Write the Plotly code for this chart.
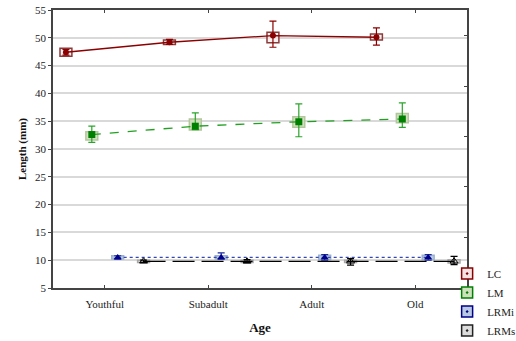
import plotly.graph_objects as go

categories = ["Youthful", "Subadult", "Adult", "Old"]
series_names = ["LC", "LM", "LRMi", "LRMs"]

lc_mean = [47.4, 49.2, 50.4, 50.1]
lc_err_hi = [47.9, 49.7, 53.0, 51.8]
lc_err_lo = [46.9, 48.8, 48.3, 48.7]
lc_box_hi = [48.1, 49.6, 51.0, 50.7]
lc_box_lo = [46.7, 48.8, 49.1, 49.6]

lm_mean = [32.6, 34.1, 34.9, 35.4]
lm_err_hi = [34.1, 36.5, 38.1, 38.3]
lm_err_lo = [31.2, 33.5, 32.2, 33.9]
lm_box_hi = [33.1, 35.4, 35.8, 36.4]
lm_box_lo = [31.6, 33.4, 33.9, 34.7]

lrmi_mean = [10.5, 10.5, 10.5, 10.5]
lrmi_err_hi = [10.8, 11.3, 11.0, 11.0]
lrmi_err_lo = [10.2, 10.2, 10.0, 10.0]
lrmi_box_hi = [10.8, 10.8, 10.9, 10.9]
lrmi_box_lo = [10.2, 10.2, 10.1, 10.1]

lrms_mean = [9.8, 9.8, 9.8, 9.8]
lrms_err_hi = [10.0, 10.1, 10.3, 10.7]
lrms_err_lo = [9.6, 9.55, 9.1, 9.2]
lrms_box_hi = [10.0, 10.0, 10.0, 10.1]
lrms_box_lo = [9.6, 9.6, 9.6, 9.5]

right_tick_vals = [50.5, 41.3, 32.2, 23.2, 14.0]

offsets = [-0.375, -0.125, 0.125, 0.375]
box_w = 0.115

styles = [
    dict(line=dict(color="#8B0000", width=1.3, dash="solid"),
         marker=dict(symbol="circle", size=6, color="#8B0000"),
         err="#8B0000", box_fill="rgba(250,235,235,0.7)", box_line="#8B3A3A",
         leg=dict(symbol="square-dot", size=11, color="#f5e4e4", line=dict(color="#8B0000", width=1.5))),
    dict(line=dict(color="#22A022", width=1.3, dash="dash"),
         marker=dict(symbol="square", size=7, color="#008000"),
         err="#2AA52A", box_fill="rgba(205,222,185,0.9)", box_line="#B2C89C",
         leg=dict(symbol="square-dot", size=11, color="#cfe0bd", line=dict(color="#008000", width=1.5))),
    dict(line=dict(color="#3548B0", width=1.3, dash="dot"),
         marker=dict(symbol="triangle-up", size=7, color="#00008B"),
         err="#1A2A9A", box_fill="rgba(180,198,225,0.95)", box_line="#9DB2D2",
         leg=dict(symbol="square-dot", size=11, color="#b9c9e2", line=dict(color="#00008B", width=1.5))),
    dict(line=dict(color="#000000", width=1.3, dash="22px,7px"),
         marker=dict(symbol="triangle-up-open", size=7, color="#000000"),
         err="#000000", box_fill="rgba(215,215,215,0.95)", box_line="#A8A8A8",
         leg=dict(symbol="square-dot", size=11, color="#dcdcdc", line=dict(color="#222222", width=1.5))),
]

data = [
    (lc_mean, lc_err_hi, lc_err_lo, lc_box_hi, lc_box_lo),
    (lm_mean, lm_err_hi, lm_err_lo, lm_box_hi, lm_box_lo),
    (lrmi_mean, lrmi_err_hi, lrmi_err_lo, lrmi_box_hi, lrmi_box_lo),
    (lrms_mean, lrms_err_hi, lrms_err_lo, lrms_box_hi, lrms_box_lo),
]

legend_labels = ["LC", "LM", "LRMi", "LRMs"]

fig = go.Figure()

for i, (mean, ehi, elo, bhi, blo) in enumerate(data):
    st = styles[i]
    xs = [k + 0.5 + offsets[i] for k in range(len(categories))]
    fig.add_trace(go.Bar(
        x=xs, y=[h - l for h, l in zip(bhi, blo)], base=blo, width=box_w,
        marker=dict(color=st["box_fill"], line=dict(color=st["box_line"], width=1.5)),
        showlegend=False, hoverinfo="skip"))

for i, (mean, ehi, elo, bhi, blo) in enumerate(data):
    st = styles[i]
    xs = [k + 0.5 + offsets[i] for k in range(len(categories))]
    fig.add_trace(go.Scatter(
        x=xs, y=mean, mode="lines+markers", name=series_names[i],
        line=st["line"], marker=st["marker"],
        error_y=dict(type="data", symmetric=False,
                     array=[h - m for h, m in zip(ehi, mean)],
                     arrayminus=[m - l for m, l in zip(mean, elo)],
                     color=st["err"], thickness=1.2, width=3.5),
        showlegend=False))

for i in range(len(data)):
    st = styles[i]
    fig.add_trace(go.Scatter(
        x=[None], y=[None], mode="markers", name=legend_labels[i],
        marker=st["leg"], showlegend=True))

# invisible trace to activate right axis
fig.add_trace(go.Scatter(x=[None], y=[None], yaxis="y2", showlegend=False))

serif = "Liberation Serif, Times New Roman, serif"

fig.update_layout(
    width=516, height=341,
    margin=dict(l=53, r=49, t=10, b=53, autoexpand=False),
    paper_bgcolor="white", plot_bgcolor="white",
    barmode="overlay",
    font=dict(family=serif, size=11, color="#222222"),
    showlegend=True,
    legend=dict(x=0.952, y=0.104, xanchor="left", yanchor="top",
                bgcolor="rgba(0,0,0,0)", font=dict(family=serif, size=11, color="#222222"),
                itemwidth=30, tracegroupgap=0, traceorder="normal"),
    xaxis=dict(range=[0, 4], tickmode="array",
               tickvals=[k + 0.5 for k in range(len(categories))], ticktext=categories,
               showgrid=False, zeroline=False,
               showline=True, linecolor="#444444", linewidth=1.5, mirror="ticks",
               ticks="inside", ticklen=3, tickcolor="#444444",
               tickfont=dict(family=serif, size=11, color="#222222"),
               ticklabelstandoff=5,
               title=dict(text="<b>Age</b>", font=dict(family=serif, size=13, color="#111111"),
                          standoff=14)),
    yaxis=dict(range=[5, 55], dtick=5, tick0=5,
               showgrid=True, gridcolor="#d9d9d9", gridwidth=1.5, zeroline=False,
               showline=True, linecolor="#444444", linewidth=1.5, mirror=True,
               ticks="outside", ticklen=3, tickcolor="#444444",
               tickfont=dict(family=serif, size=11, color="#222222"),
               title=dict(text="<b>Length (mm)</b>", font=dict(family=serif, size=11, color="#111111"),
                          standoff=6)),
    yaxis2=dict(range=[5, 55], overlaying="y", side="right", tickmode="array",
                tickvals=right_tick_vals, showticklabels=False, ticks="inside",
                ticklen=3, tickcolor="#444444", showgrid=False, zeroline=False,
                showline=False),
)

fig.write_html("out.html")
